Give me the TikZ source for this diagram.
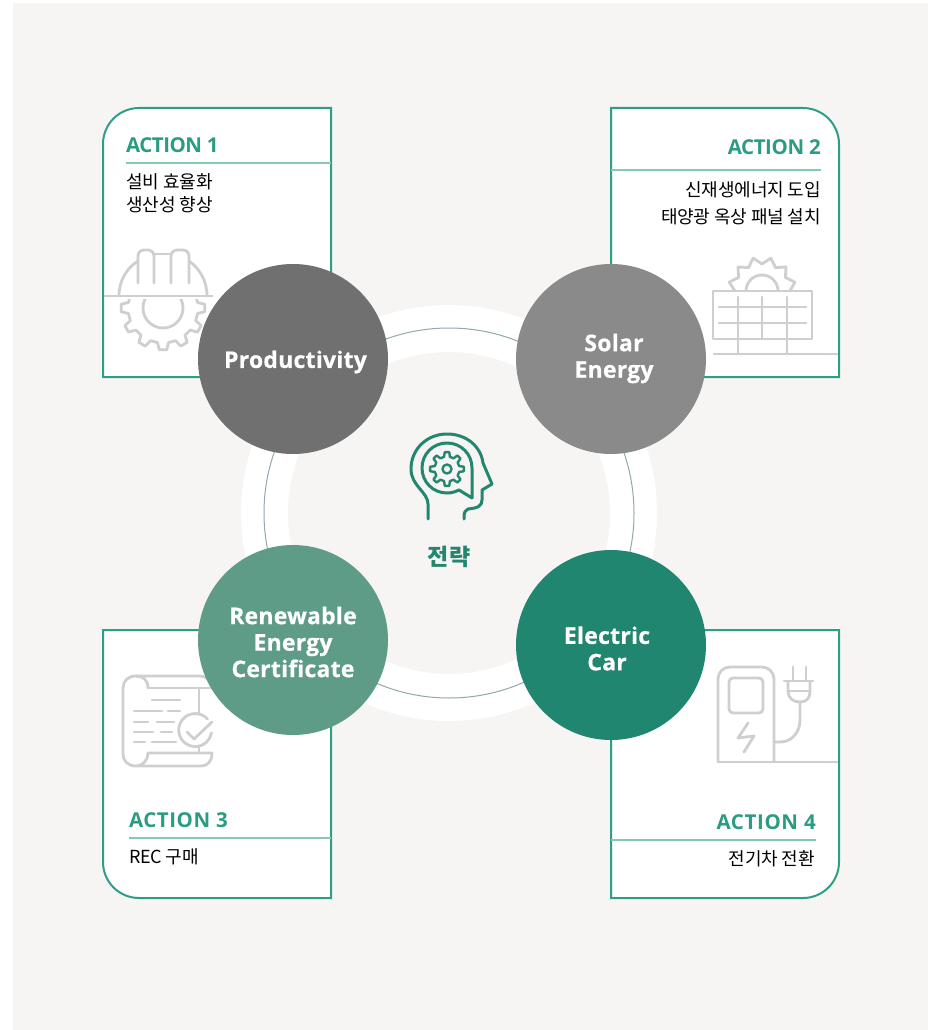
\documentclass[tikz,border=0pt]{standalone}
\usepackage{fontspec}
\setmainfont{Open Sans}
\newfontfamily\krfont{Noto Sans CJK KR}
\newfontfamily\headfont[LetterSpace=-3]{Open Sans}
\newfontfamily\circfont[LetterSpace=1,BoldFeatures={FakeBold=0.5}]{Open Sans}
\definecolor{panelbg}{HTML}{F6F5F3}
\definecolor{cardline}{HTML}{2F9E87}
\definecolor{ruleline}{HTML}{85C8B6}
\definecolor{actiongreen}{HTML}{2A9C84}
\definecolor{icongray}{HTML}{CFCFCF}
\definecolor{ringline}{HTML}{8FA9AE}
\definecolor{headgreen}{HTML}{24866F}
\definecolor{cprod}{HTML}{707070}
\definecolor{csolar}{HTML}{8A8A8A}
\definecolor{crec}{HTML}{5E9C88}
\definecolor{ccar}{HTML}{20866F}
\tikzset{
  x=1pt,y=-1pt,
  cardbox/.style={draw=cardline,line width=2pt,fill=white},
  cardrule/.style={draw=ruleline,line width=1.4pt},
  iconline/.style={draw=icongray,line width=2.8pt,line cap=round,line join=round},
  headline/.style={draw=headgreen,line width=3pt,line cap=round,line join=round},
  bigcircle/.style={circle,minimum size=190pt,inner sep=0pt,text=white,align=center,
    font=\circfont\fontsize{23}{26.5}\selectfont\bfseries},
  actiontitle/.style={text=actiongreen,inner sep=0pt,font=\headfont\fontsize{20.5}{24}\selectfont\bfseries},
  bodytext/.style={text=black,inner sep=0pt,font=\krfont\fontsize{18}{18}\selectfont},
}
\newcommand{\gearpath}[5]{% cx cy router rvalley nteeth
  \pgfmathsetmacro{\gstep}{360/#5}
  \pgfmathsetmacro{\gA}{\gstep*0.17}
  \pgfmathsetmacro{\gB}{\gstep*0.30}
  \draw[shift={(#1,#2)}] (-\gB:#4)
    \foreach \gi in {1,...,#5} {
      -- ({(\gi-1)*\gstep-\gA}:#3) -- ({(\gi-1)*\gstep+\gA}:#3)
      -- ({(\gi-1)*\gstep+\gB}:#4) -- ({\gi*\gstep-\gB}:#4)
    } -- cycle;
}
\begin{document}
\begin{tikzpicture}
\useasboundingbox (0,0) rectangle (933,1030);
\fill[white] (0,0) rectangle (933,1030);
\fill[panelbg] (13,3) rectangle (928,1030);

% ring
\coordinate (ringc) at (449,513);
\fill[white,even odd rule] (ringc) circle[radius=208] (ringc) circle[radius=161];
\draw[ringline,line width=1pt] (ringc) circle[radius=185];

% cards
\draw[cardbox] (331,108) -- (331,377) -- (103,377) [rounded corners=36pt] -- (103,108) [sharp corners] -- (331,108) -- cycle;
\draw[cardbox] (611,377) -- (611,108) [rounded corners=36pt] -- (839,108) [sharp corners] -- (839,377) -- (611,377) -- cycle;
\draw[cardbox] (331,630) -- (331,898) [rounded corners=36pt] -- (103,898) [sharp corners] -- (103,630) -- (331,630) -- cycle;
\draw[cardbox] (611,630) -- (839,630) [rounded corners=36pt] -- (839,898) [sharp corners] -- (611,898) -- (611,630) -- cycle;

% card rules
\coordinate (r1a) at (126,163); \coordinate (r1b) at (331,163);
\coordinate (r2a) at (611,170); \coordinate (r2b) at (821,170);
\coordinate (r3a) at (129,838); \coordinate (r3b) at (331,838);
\coordinate (r4a) at (611,840); \coordinate (r4b) at (816,840);
\draw[cardrule] (r1a) -- (r1b);
\draw[cardrule] (r2a) -- (r2b);
\draw[cardrule] (r3a) -- (r3b);
\draw[cardrule] (r4a) -- (r4b);

% card texts
\node[actiontitle,anchor=base west] (a1) at (126,153) {\addfontfeature{LetterSpace=-2.5}ACTION 1};
\node[bodytext,anchor=west] (b1a) at (126,181.5) {\addfontfeature{LetterSpace=-0.6}설비 효율화};
\node[bodytext,anchor=west] (b1b) at (126,204.5) {\addfontfeature{LetterSpace=-0.6}생산성 향상};
\node[actiontitle,anchor=base east] (a2) at (821,154) {\addfontfeature{LetterSpace=-2}ACTION 2};
\node[bodytext,anchor=east] (b2a) at (821,189.5) {\addfontfeature{LetterSpace=-1}신재생에너지 도입};
\node[bodytext,anchor=east] (b2b) at (821,216.5) {\addfontfeature{LetterSpace=-1}태양광 옥상 패널 설치};
\node[actiontitle,anchor=base west] (a3) at (129,827) {\addfontfeature{LetterSpace=2.5}ACTION 3};
\node[bodytext,anchor=west] (b3) at (129,856.5) {\addfontfeature{LetterSpace=-1.5}REC 구매};
\node[actiontitle,anchor=base east] (a4) at (816,829) {\addfontfeature{LetterSpace=3}ACTION 4};
\node[bodytext,anchor=east] (b4) at (815,858.5) {\addfontfeature{LetterSpace=-1}전기차 전환};

% helmet icon
\begin{scope}[iconline]
\draw[line cap=butt] (104,296) -- (213,296);
\draw (119,296) .. controls (119,280) and (127,268) .. (138,261);
\draw (207,296) .. controls (207,280) and (199,268) .. (189,261);
\draw[rounded corners=6pt] (138,283) -- (138,250) -- (154,250) -- (154,283);
\draw[rounded corners=6pt] (171,283) -- (171,250) -- (189,250) -- (189,283);
\draw (154,254) -- (171,254);
\begin{scope}
\clip (100,299) rectangle (230,360);
\gearpath{163}{308}{42}{35}{12}
\draw (163,308) circle[radius=20];
\end{scope}
\end{scope}

% solar icon
\begin{scope}[iconline]
\draw (713,291) rectangle (812,339);
\draw (719,307) -- (806,307);
\draw (719,323) -- (806,323);
\draw (738,297) -- (738,354);
\draw (762,297) -- (762,339);
\draw (787,297) -- (787,354);
\draw[line cap=butt] (713,354) -- (838,354);
\draw (746,291) arc[start angle=180,end angle=360,radius=16];
\begin{scope}
\clip (700,250) rectangle (830,290);
\draw[shift={(762,291)}] (0:28)
  \foreach \si in {1,...,11} { -- ({\si*30-15}:34) -- ({\si*30}:27) } -- (345:34) -- cycle;
\end{scope}
\end{scope}

% certificate icon
\begin{scope}[iconline]
\draw (148,688) .. controls (148,680) and (143,676) .. (136,676) .. controls (128,676) and (123,681) .. (123,688)
  -- (123,754) .. controls (123,761) and (128,766) .. (136,766) .. controls (143,766) and (148,760) .. (148,753) -- (212,753)
  .. controls (212,761) and (208,766) .. (201,766) -- (136,766);
\draw (136,676) -- (200,676) .. controls (206,676) and (210,680) .. (212,688);
\draw (148,688) -- (212,688);
\draw (199,688) -- (199,714);
\draw (199,746) -- (199,753);
\draw (207.5,719) arc[start angle=-42,end angle=-350,radius=16.5];
\draw (187,732) -- (194,739) -- (212,722);
\draw (152,700) -- (180,700);
\draw (134,711) -- (162,711); \draw (168,711) -- (180,711);
\draw (134,722) -- (148,722); \draw (157,722) -- (174,722);
\draw (134,732) -- (153,732); \draw (161,732) -- (172,732);
\draw (134,742) -- (145,742); \draw (152,742) -- (176,742);
\end{scope}

% EV charger icon
\begin{scope}[iconline]
\draw (718,762) -- (718,679) arc[start angle=180,end angle=270,radius=12] -- (762,667) arc[start angle=-90,end angle=0,radius=12] -- (774,762);
\draw[line cap=butt] (718,762) -- (838,762);
\draw[rounded corners=4pt] (729,678) rectangle (763,713);
\draw (748,723) -- (738,738) -- (754,736) -- (744,752);
\draw (774,742) -- (780,742) .. controls (792,742) and (800,732) .. (800,720) -- (800,702);
\draw (784,681) -- (813,681);
\draw (788,681) -- (788,691) .. controls (788,698) and (793,702) .. (800,702) .. controls (807,702) and (810,698) .. (810,691) -- (810,681);
\draw (788,691) -- (810,691);
\draw (793,667) -- (793,681);
\draw (806,667) -- (806,681);
\end{scope}

% big circles
\node[bigcircle,fill=cprod] (prod) at (293,359) {};
\node[bigcircle,fill=csolar] (solar) at (611,359) {};
\node[bigcircle,fill=crec] (rec) at (293,640) {};
\node[bigcircle,fill=ccar] (car) at (611,645) {};
\node[bigcircle,minimum size=0pt] (prodt) at (295.5,362) {Productivity};
\node[bigcircle,minimum size=0pt] (solart) at (614,358.5) {Solar\\Energy};
\node[bigcircle,minimum size=0pt] (rect) at (293,642) {Renewable\\Energy\\Certificate};
\node[bigcircle,minimum size=0pt] (cart) at (607,648.5) {Electric\\Car};

% head icon
\begin{scope}[headline]
\draw (428,519) -- (428,504) .. controls (428,492) and (411,486) .. (411,469)
  .. controls (411,449) and (427,434) .. (447,434)
  .. controls (467,434) and (481,447) .. (483,463) -- (492,484) -- (482,490) -- (482,500)
  .. controls (482,506) and (478,508) .. (468,509) .. controls (465,510) and (464,512) .. (464,519);
\draw (472,498) -- (459,490) .. controls (455,492) and (451,493) .. (447,493)
  .. controls (433,493) and (422,482) .. (422,468) .. controls (422,454) and (433,443) .. (447,443)
  .. controls (461,443) and (472,454) .. (472,468) -- (472,498);
\begin{scope}[line width=2.4pt]
\gearpath{447}{469}{17}{12.5}{8}
\draw (447,469) circle[radius=4.5];
\end{scope}
\end{scope}
\node[inner sep=0pt,text=headgreen,font=\krfont\fontsize{23}{24}\selectfont\bfseries] (strat) at (449,557) {전략};
\end{tikzpicture}
\end{document}
